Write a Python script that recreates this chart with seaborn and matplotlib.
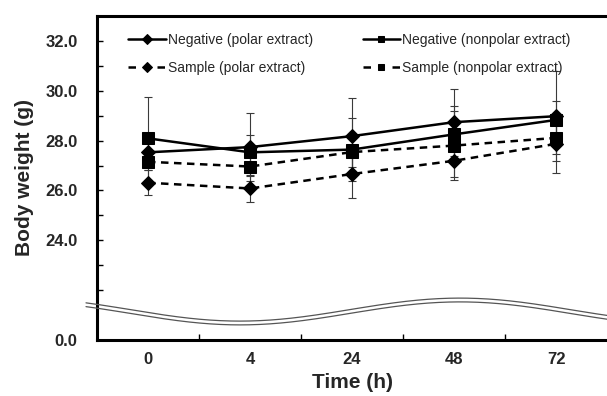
import matplotlib
matplotlib.use("Agg")
import matplotlib.pyplot as plt
import seaborn as sns
import numpy as np
import pandas as pd

# ---- data ----
time_labels = ["0", "4", "24", "48", "72"]
neg_polar = [27.53, 27.74, 28.18, 28.74, 28.98]
neg_polar_err = [0.45, 1.35, 1.53, 1.34, 1.80]
neg_nonpolar = [28.09, 27.53, 27.64, 28.25, 28.83]
neg_nonpolar_err = [1.66, 0.68, 1.26, 1.15, 0.77]
samp_polar = [26.31, 26.08, 26.66, 27.19, 27.87]
samp_polar_err = [0.50, 0.54, 0.96, 0.64, 1.17]
samp_nonpolar = [27.15, 26.96, 27.54, 27.80, 28.11]
samp_nonpolar_err = [0.32, 0.38, 0.60, 1.37, 0.65]
series_names = ["Negative (polar extract)", "Sample (polar extract)",
                "Negative (nonpolar extract)", "Sample (nonpolar extract)"]
y_tick_values = [20, 24, 26, 28, 30, 32]
y_tick_labels = ["0.0", "24.0", "26.0", "28.0", "30.0", "32.0"]
y_minor_values = [22, 23, 25, 27, 29, 31]

sns.set_theme(style="ticks")
plt.rcParams["font.family"] = ["Liberation Sans", "DejaVu Sans"]

fig = plt.figure(figsize=(6.07, 3.96), dpi=100)
ax = fig.add_axes([97 / 607, 1 - 340 / 396, 510 / 607, 324 / 396])

xpos = np.arange(len(time_labels))
dashed = (0, (3, 2.2))
series = [
    (series_names[0], neg_polar, neg_polar_err, "D", "-"),
    (series_names[1], samp_polar, samp_polar_err, "D", dashed),
    (series_names[2], neg_nonpolar, neg_nonpolar_err, "s", "-"),
    (series_names[3], samp_nonpolar, samp_nonpolar_err, "s", dashed),
]

for name, vals, errs, mk, ls in series:
    df = pd.DataFrame({"x": xpos, "y": vals})
    ax.errorbar(xpos, vals, yerr=errs, fmt="none", ecolor="#3a3a3a",
                elinewidth=0.8, capsize=3, capthick=0.8, zorder=2)
    sns.lineplot(data=df, x="x", y="y", ax=ax, color="black", linewidth=1.8,
                 linestyle=ls, marker=mk,
                 markersize=6.8 if mk == "D" else 8,
                 markeredgecolor="black", markerfacecolor="black",
                 label=name, zorder=3)

ax.set_xlim(-0.5, 4.5)
ax.set_ylim(20, 33)
ax.set_xticks(xpos)
ax.set_xticklabels(time_labels, fontsize=12, fontweight="bold")
ax.set_xticks([0.5, 1.5, 2.5, 3.5], minor=True)
ax.tick_params(axis="x", which="major", length=0, pad=9)
ax.tick_params(axis="x", which="minor", direction="in", length=4, width=1, color="black")
ax.set_yticks(y_tick_values)
ax.set_yticklabels(y_tick_labels, fontsize=12, fontweight="bold")
ax.set_yticks(y_minor_values, minor=True)
ax.tick_params(axis="y", which="both", direction="in", length=4, width=1,
               color="black", pad=14)

for s in ["left", "bottom", "top"]:
    ax.spines[s].set_linewidth(2.2)
    ax.spines[s].set_color("black")
ax.spines["right"].set_visible(False)

ax.set_xlabel("Time (h)", fontsize=15, fontweight="bold", labelpad=4)
ax.set_ylabel("Body weight (g)", fontsize=15, fontweight="bold", labelpad=8)

handles, labels = ax.get_legend_handles_labels()
leg = ax.legend(handles, labels, ncol=2, loc="upper left",
                bbox_to_anchor=(128 / 607, 1 - 33 / 396),
                bbox_transform=fig.transFigure, frameon=False,
                fontsize=10, handlelength=2.7, handletextpad=0.15,
                columnspacing=3.6, labelspacing=1.0, borderpad=0,
                borderaxespad=0)
for h, lab in zip(leg.legend_handles, labels):
    h.set_markersize(5)
    if lab.startswith("Sample"):
        h.set_linestyle((0, (3.0, 8.6)))

# axis-break wave (decoration)
px = np.linspace(86, 607, 400)
py = 311.5 + 11.5 * np.cos(2 * np.pi * (px - 240) / 440)
for off in (-1.9, 1.9):
    fig.add_artist(plt.Line2D(px / 607, 1 - (py + off) / 396,
                              transform=fig.transFigure, color="#555555",
                              linewidth=0.9))

fig.savefig("out.png", dpi=100)
